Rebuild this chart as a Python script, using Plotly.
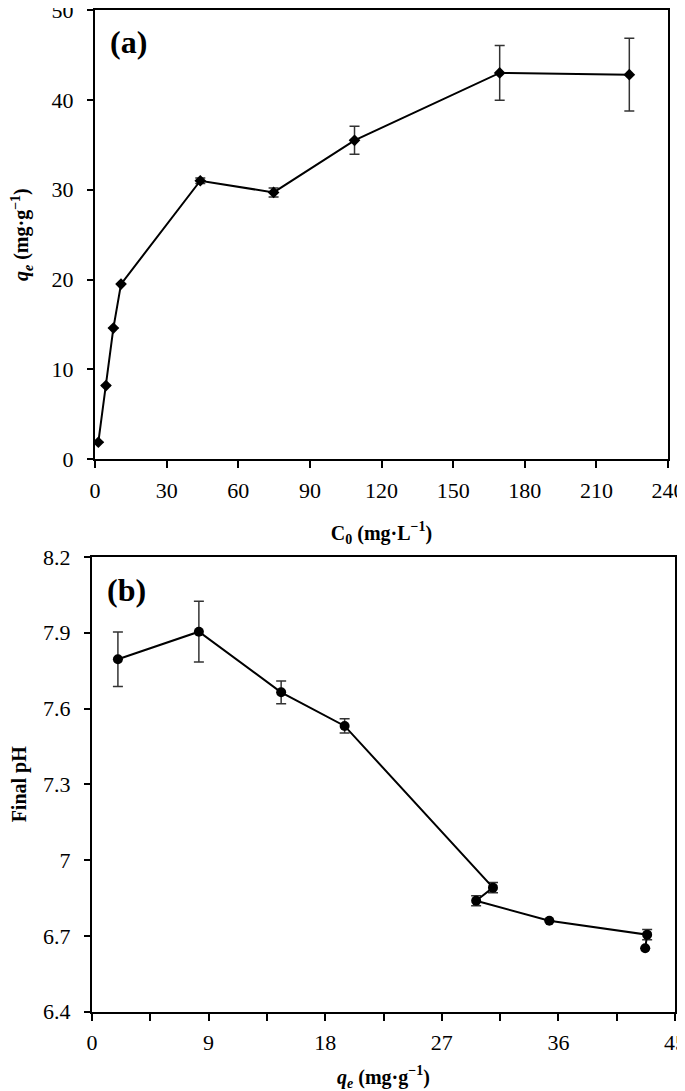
import plotly.graph_objects as go

# Data
c0 = [1.4, 4.6, 7.7, 10.9, 44.1, 74.8, 108.7, 169.5, 223.8]
qe = [1.9, 8.2, 14.6, 19.5, 31.0, 29.7, 35.5, 43.0, 42.8]
qe_err = [0.0, 0.0, 0.0, 0.0, 0.3, 0.5, 1.55, 3.05, 4.05]

qe_b = [2.0, 8.25, 14.6, 19.5, 30.95, 29.65, 35.3, 42.85, 42.7]
final_ph = [7.795, 7.904, 7.664, 7.531, 6.891, 6.839, 6.760, 6.705, 6.651]
ph_err = [0.108, 0.12, 0.045, 0.028, 0.02, 0.02, 0.0, 0.02, 0.0]

top_xticks = [0, 30, 60, 90, 120, 150, 180, 210, 240]
top_yticks = [0, 10, 20, 30, 40, 50]
bot_xticks = [0, 9, 18, 27, 36, 45]
bot_yticks = [6.4, 6.7, 7.0, 7.3, 7.6, 7.9, 8.2]
bot_yticktext = ["6.4", "6.7", "7", "7.3", "7.6", "7.9", "8.2"]

# The page body has an 8 px margin; size the figure so it fills the window.
OFF = 8
W, H = 685 - OFF, 1091 - OFF


def dx(px):
    return (px - OFF) / W


def dy(py):
    return (H - (py - OFF)) / H


FONT = "Liberation Serif, Times New Roman, serif"

fig = go.Figure()
fig.add_trace(go.Scatter(
    x=c0, y=qe, mode="lines+markers", xaxis="x", yaxis="y",
    line=dict(color="black", width=2),
    marker=dict(symbol="diamond", size=9, color="black"),
    error_y=dict(type="data", array=qe_err, visible=True, color="#333", thickness=1.5, width=5),
    showlegend=False,
))
fig.add_trace(go.Scatter(
    x=qe_b, y=final_ph, mode="lines+markers", xaxis="x2", yaxis="y2",
    line=dict(color="black", width=2),
    marker=dict(symbol="circle", size=10, color="black"),
    error_y=dict(type="data", array=ph_err, visible=True, color="#333", thickness=1.5, width=5),
    showlegend=False,
))

axis_common = dict(
    showline=True, linecolor="black", linewidth=2, mirror=True,
    ticks="outside", tickwidth=2, tickcolor="black",
    showgrid=False, zeroline=False, automargin=False,
    ticklabeloverflow="allow",
    tickfont=dict(family=FONT, size=22, color="black"),
)
title_font = dict(family=FONT, size=20, color="black")

fig.update_layout(
    width=W, height=H,
    margin=dict(l=0, r=0, t=0, b=0),
    paper_bgcolor="white", plot_bgcolor="white",
    xaxis=dict(
        domain=[dx(95), dx(668)], anchor="y", range=[0, 240],
        tickvals=top_xticks, ticklen=7, ticklabelstandoff=3,
        title=dict(text="<b>C<sub>0</sub> (mg·L<sup>−1</sup>)</b>", font=title_font, standoff=24),
        **axis_common,
    ),
    yaxis=dict(
        domain=[dy(459.3), dy(10)], anchor="x", range=[0, 50],
        tickvals=top_yticks, ticklen=6, ticklabelstandoff=9,
        title=dict(text="<b><i>q<sub>e</sub></i> (mg·g<sup>−1</sup>)</b>", font=title_font, standoff=21),
        **axis_common,
    ),
    xaxis2=dict(
        domain=[dx(92), dx(675)], anchor="y2", range=[0, 45],
        tickvals=bot_xticks, ticklen=7, ticklabelstandoff=3,
        minor=dict(dtick=4.5, ticks="outside", ticklen=7, tickwidth=2, tickcolor="black"),
        title=dict(text="<b><i>q<sub>e</sub></i> (mg·g<sup>−1</sup>)</b>", font=title_font, standoff=21),
        **axis_common,
    ),
    yaxis2=dict(
        domain=[dy(1011.7), dy(556.9)], anchor="x2", range=[6.4, 8.2],
        tickvals=bot_yticks, ticktext=bot_yticktext, ticklen=6, ticklabelstandoff=9,
        title=dict(text="<b>Final pH</b>", font=title_font, standoff=16),
        **axis_common,
    ),
    annotations=[
        dict(text="<b>(a)</b>", x=0.0226, y=0.929, xref="x domain", yref="y domain",
             xanchor="left", yanchor="middle", showarrow=False,
             font=dict(family=FONT, size=32, color="black")),
        dict(text="<b>(b)</b>", x=0.0223, y=0.927, xref="x2 domain", yref="y2 domain",
             xanchor="left", yanchor="middle", showarrow=False,
             font=dict(family=FONT, size=32, color="black")),
    ],
)

fig.write_html("out.html")
